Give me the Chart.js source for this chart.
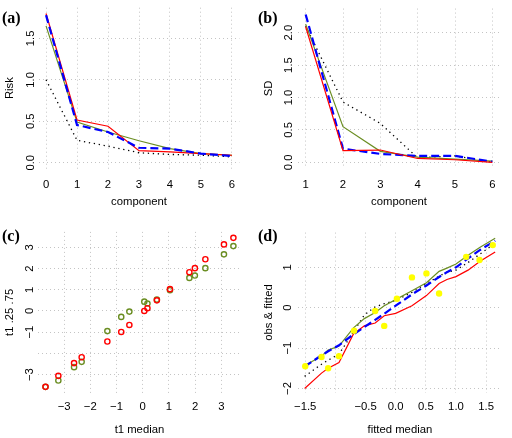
<!DOCTYPE html>
<html>
<head>
<meta charset="utf-8">
<script src="https://cdn.jsdelivr.net/npm/chart.js@4.4.1/dist/chart.umd.min.js"></script>
<style>
  body { margin: 0; background: #fff; }
  #wrap { position: relative; width: 512px; height: 438px; }
  .panel { position: absolute; width: 256px; height: 219px; }
  .tag { position: absolute; font: bold 16px "Liberation Serif", serif; line-height: 16px; color: #000; }
</style>
</head>
<body>
<div id="wrap">
  <div class="panel" style="left:0;top:0"><canvas id="chartA" width="256" height="219"></canvas></div>
  <div class="panel" style="left:256px;top:0"><canvas id="chartB" width="256" height="219"></canvas></div>
  <div class="panel" style="left:0;top:219px"><canvas id="chartC" width="256" height="219"></canvas></div>
  <div class="panel" style="left:256px;top:219px"><canvas id="chartD" width="256" height="219"></canvas></div>
  <div class="tag" style="left:2px;top:10px">(a)</div>
  <div class="tag" style="left:258px;top:10px">(b)</div>
  <div class="tag" style="left:2px;top:228px">(c)</div>
  <div class="tag" style="left:258px;top:228px">(d)</div>
</div>
<script>
// (a) risk vs number of components
const riskComponents = [0, 1, 2, 3, 4, 5, 6]
const riskRed = [1.80, 0.515, 0.44, 0.145, 0.13, 0.11, 0.09]
const riskBlue = [1.78, 0.455, 0.37, 0.18, 0.17, 0.11, 0.08]
const riskGreen = [1.65, 0.49, 0.37, 0.265, 0.17, 0.11, 0.09]
const riskDotted = [1.0, 0.27, 0.2, 0.12, 0.1, 0.09, 0.07]
const riskXTicks = [0, 1, 2, 3, 4, 5, 6]
const riskXLabels = ['0', '1', '2', '3', '4', '5', '6']
const riskYTicks = [0, 0.5, 1, 1.5]
const riskYLabels = ['0.0', '0.5', '1.0', '1.5']

// (b) SD vs component
const sdComponents = [1, 2, 3, 4, 5, 6]
const sdRed = [2.09, 0.18, 0.19, 0.06, 0.04, 0.0]
const sdBlue = [2.28, 0.21, 0.13, 0.1, 0.1, 0.01]
const sdGreen = [2.13, 0.55, 0.17, 0.08, 0.05, 0.02]
const sdDotted = [2.1, 0.93, 0.6, 0.07, 0.1, 0.0]
const sdXTicks = [1, 2, 3, 4, 5, 6]
const sdXLabels = ['1', '2', '3', '4', '5', '6']
const sdYTicks = [0, 0.5, 1, 1.5, 2]
const sdYLabels = ['0.0', '0.5', '1.0', '1.5', '2.0']

// (c) t1 quantiles vs median
const t1Median = [-3.71, -3.22, -2.62, -2.33, -1.35, -0.82, -0.51, 0.06, 0.18, 0.54, 1.04, 1.78, 1.99, 2.39, 3.10, 3.46]
const t1Red = [-3.58, -3.06, -2.46, -2.18, -1.44, -0.99, -0.66, 0.0, 0.13, 0.50, 1.03, 1.83, 2.02, 2.44, 3.14, 3.45]
const t1Green = [-3.58, -3.28, -2.65, -2.40, -0.95, -0.28, -0.03, 0.44, 0.35, 0.54, 0.98, 1.56, 1.67, 2.02, 2.67, 3.06]
const t1Ticks = [-3, -2, -1, 0, 1, 2, 3]
const t1XLabels = ['−3', '−2', '−1', '0', '1', '2', '3']
const t1YLabels = ['−3', '', '−1', '0', '1', '2', '3']

// (d) observed & fitted vs fitted median
const fittedX = [-1.51, -1.23, -1.12, -0.94, -0.70, -0.52, -0.34, -0.19, 0.0, 0.27, 0.51, 0.72, 0.85, 1.0, 1.2, 1.4, 1.65]
const fitGreen = [-1.43, -1.2, -1.05, -0.95, -0.5, -0.27, -0.12, 0.05, 0.2, 0.42, 0.62, 0.9, 0.98, 1.08, 1.3, 1.5, 1.72]
const fitBlue = [-1.46, -1.18, -1.08, -0.93, -0.66, -0.48, -0.3, -0.15, 0.05, 0.33, 0.55, 0.76, 0.88, 1.0, 1.22, 1.43, 1.66]
const fitRed = [-2.0, -1.62, -1.5, -1.36, -0.65, -0.45, -0.38, -0.2, -0.14, 0.05, 0.3, 0.6, 0.7, 0.77, 0.93, 1.15, 1.38]
const fitDotted = [-1.7, -1.4, -1.3, -1.15, -0.6, -0.18, 0.02, 0.1, 0.18, 0.38, 0.6, 0.78, 0.88, 0.93, 1.12, 1.33, 1.6]
const obsX = [-1.50, -1.23, -1.12, -0.94, -0.69, -0.34, -0.19, 0.02, 0.27, 0.51, 0.72, 1.17, 1.39, 1.61]
const obsY = [-1.45, -1.22, -1.50, -1.20, -0.57, -0.08, -0.45, 0.22, 0.75, 0.85, 0.35, 1.26, 1.18, 1.55]
const fitXTicks = [-1.5, -1, -0.5, 0, 0.5, 1, 1.5]
const fitXLabels = ['−1.5', '', '−0.5', '0.0', '0.5', '1.0', '1.5']
const fitYTicks = [-2, -1, 0, 1]
const fitYLabels = ['−2', '−1', '0', '1']

const FONT = { family: "'Liberation Sans', Arial, sans-serif", size: 11.3 }
const GRID_COL = '#c4c4c4'
const RED = '#ff0000', GREEN = '#6b8e23', BLUE = '#0000ff'

function pts(xs, ys) {
    return xs.map((x, i) => ({ x: x, y: ys[i] }))
}

function lineSet(data, colour, width, dash, order) {
    return {
        type: 'line', data: data, borderColor: colour, borderWidth: width,
        borderDash: dash || [], borderCapStyle: 'butt', pointRadius: 0,
        tension: 0, fill: false, order: order
    }
}

function makePanel(id, box, xs, ys, datasets) {
    const fixTicks = (vals) => (scale) => { scale.ticks = vals.map(v => ({ value: v })) }
    return new Chart(document.getElementById(id), {
        type: 'line',
        data: { datasets: datasets },
        options: {
            responsive: false,
            animation: false,
            devicePixelRatio: 1,
            layout: { padding: { left: 0, top: box.top, right: 256 - box.right, bottom: 0 } },
            plugins: { legend: { display: false }, tooltip: { enabled: false } },
            scales: {
                x: {
                    type: 'linear', min: xs.min, max: xs.max,
                    afterBuildTicks: fixTicks(xs.ticks),
                    afterFit: (s) => { s.height = 219 - box.bottom },
                    grid: { color: GRID_COL, lineWidth: 1, drawTicks: false },
                    border: { display: false, dash: [1, 3] },
                    ticks: {
                        font: FONT, color: '#000', padding: xs.tickPad, maxRotation: 0,
                        autoSkip: false, callback: (v, i) => xs.labels[i]
                    },
                    title: { display: true, text: xs.title, font: FONT, color: '#000', padding: { top: 0, bottom: xs.titlePad } }
                },
                y: {
                    type: 'linear', min: ys.min, max: ys.max,
                    afterBuildTicks: fixTicks(ys.ticks),
                    afterFit: (s) => { s.width = box.left },
                    grid: { color: GRID_COL, lineWidth: 1, drawTicks: false },
                    border: { display: false, dash: [1, 3] },
                    ticks: {
                        font: FONT, color: '#000', padding: ys.tickPad, minRotation: 90, maxRotation: 90,
                        crossAlign: 'center', autoSkip: false, callback: (v, i) => ys.labels[i]
                    },
                    title: { display: true, text: ys.title, font: FONT, color: '#000', padding: { top: ys.titlePad, bottom: 0 } }
                }
            }
        }
    })
}

makePanel('chartA', { left: 38.6, right: 239.4, top: 7.7, bottom: 168.5 },
    { min: -0.24, max: 6.24, ticks: riskXTicks, labels: riskXLabels, title: 'component', tickPad: 10, titlePad: 10.2 },
    { min: -0.07, max: 1.87, ticks: riskYTicks, labels: riskYLabels, title: 'Risk', tickPad: 0, titlePad: 3.5 },
    [
        lineSet(pts(riskComponents, riskBlue), BLUE, 2.2, [8, 4], 1),
        lineSet(pts(riskComponents, riskRed), RED, 1.2, null, 2),
        lineSet(pts(riskComponents, riskGreen), GREEN, 1.2, null, 3),
        lineSet(pts(riskComponents, riskDotted), '#000', 1.3, [1.3, 3.7], 4)
    ])

makePanel('chartB', { left: 42.2, right: 243.8, top: 6.4, bottom: 168.2 },
    { min: 0.8, max: 6.2, ticks: sdXTicks, labels: sdXLabels, title: 'component', tickPad: 10, titlePad: 10.5 },
    { min: -0.09, max: 2.37, ticks: sdYTicks, labels: sdYLabels, title: 'SD', tickPad: 1.8, titlePad: 5.8 },
    [
        lineSet(pts(sdComponents, sdBlue), BLUE, 2.2, [8, 4], 2),
        lineSet(pts(sdComponents, sdRed), RED, 1.2, null, 1),
        lineSet(pts(sdComponents, sdGreen), GREEN, 1.2, null, 3),
        lineSet(pts(sdComponents, sdDotted), '#000', 1.3, [1.3, 3.7], 4)
    ])

const circle = (data, colour, order) => ({
    type: 'scatter', data: data, showLine: false, pointStyle: 'circle', pointRadius: 2.6,
    pointBorderWidth: 1.4, pointBorderColor: colour, pointBackgroundColor: 'rgba(0,0,0,0)', order: order
})

makePanel('chartC', { left: 37.9, right: 241, top: 12.9, bottom: 173.8 },
    { min: -4.0, max: 3.75, ticks: t1Ticks, labels: t1XLabels, title: 't1 median', tickPad: 7.7, titlePad: 1.5 },
    { min: -3.86, max: 3.73, ticks: t1Ticks, labels: t1YLabels, title: 't1 .25 .75', tickPad: 1.4, titlePad: 3.2 },
    [
        circle(pts(t1Median, t1Red), RED, 1),
        circle(pts(t1Median, t1Green), GREEN, 2)
    ])

makePanel('chartD', { left: 42.0, right: 245.8, top: 13.6, bottom: 173.5 },
    { min: -1.62, max: 1.76, ticks: fitXTicks, labels: fitXLabels, title: 'fitted median', tickPad: 8, titlePad: 1.5 },
    { min: -2.1, max: 1.86, ticks: fitYTicks, labels: fitYLabels, title: 'obs & fitted', tickPad: 3.9, titlePad: 6.2 },
    [
        {
            type: 'scatter', data: pts(obsX, obsY), showLine: false, pointRadius: 3.2,
            pointBorderWidth: 0, pointBackgroundColor: '#ffff00', order: 0
        },
        lineSet(pts(fittedX, fitBlue), BLUE, 2.2, [8, 4], 1),
        lineSet(pts(fittedX, fitRed), RED, 1.2, null, 2),
        lineSet(pts(fittedX, fitGreen), GREEN, 1.2, null, 3),
        lineSet(pts(fittedX, fitDotted), '#000', 1.3, [1.3, 3.7], 4)
    ])
</script>
</body>
</html>
